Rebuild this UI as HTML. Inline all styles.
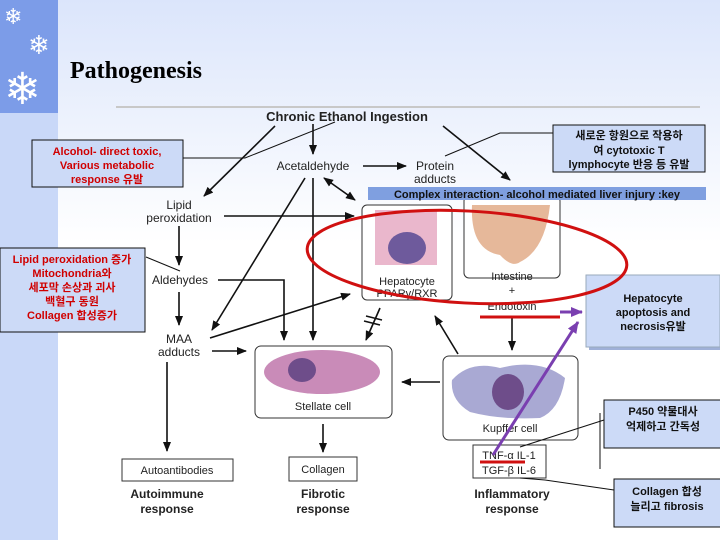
<!DOCTYPE html>
<html><head><meta charset="utf-8"><style>
html,body{margin:0;padding:0;}
body{width:720px;height:540px;overflow:hidden;background:#fff;font-family:"Liberation Sans","Noto Sans CJK KR",sans-serif;}
</style></head><body>
<svg width="720" height="540" xmlns="http://www.w3.org/2000/svg" font-family="Liberation Sans, Noto Sans CJK KR, sans-serif">
<defs>
<linearGradient id="bg" x1="0" y1="0" x2="0" y2="1">
<stop offset="0" stop-color="#dbe5fb"/><stop offset="0.45" stop-color="#ffffff"/><stop offset="1" stop-color="#ffffff"/></linearGradient>
<marker id="a" markerWidth="10" markerHeight="8" refX="9" refY="4" orient="auto" markerUnits="userSpaceOnUse"><path d="M0,0 L10,4 L0,8 z" fill="#111"/></marker>
<marker id="as" markerWidth="10" markerHeight="8" refX="1" refY="4" orient="auto" markerUnits="userSpaceOnUse"><path d="M10,0 L0,4 L10,8 z" fill="#111"/></marker>
<marker id="p" markerWidth="12" markerHeight="10" refX="11" refY="5" orient="auto" markerUnits="userSpaceOnUse"><path d="M0,0 L12,5 L0,10 z" fill="#7a3fb0"/></marker>
</defs>
<rect width="720" height="540" fill="url(#bg)"/>
<rect x="0" y="0" width="58" height="540" fill="#c9d8f8"/>
<rect x="0" y="0" width="58" height="113" fill="#7c9ce8"/>
<g fill="#fff" font-size="22"><text x="4" y="24">❄</text><text x="28" y="54" font-size="26">❄</text><text x="4" y="104" font-size="44">❄</text></g>
<text x="70" y="78" font-family="Liberation Serif, serif" font-weight="bold" font-size="24">Pathogenesis</text>
<line x1="116" y1="107" x2="700" y2="107" stroke="#c8c8c8" stroke-width="2"/>

<g font-size="12" fill="#222" text-anchor="middle">
<text x="347" y="121" font-weight="bold" font-size="13">Chronic Ethanol Ingestion</text>
<text x="313" y="170">Acetaldehyde</text>
<text x="435" y="170">Protein</text><text x="435" y="183">adducts</text>
<text x="179" y="209">Lipid</text><text x="179" y="222">peroxidation</text>
<text x="180" y="284">Aldehydes</text>
<text x="179" y="343">MAA</text><text x="179" y="356">adducts</text>
</g>

<!-- cell boxes -->
<rect x="362" y="205" width="90" height="95" rx="5" fill="#fff" stroke="#333"/>
<rect x="375" y="210" width="62" height="55" fill="#eab7cc"/>
<ellipse cx="407" cy="248" rx="19" ry="16" fill="#6e5a9c"/>
<rect x="464" y="196" width="96" height="82" rx="5" fill="#fff" stroke="#333"/>
<path d="M472,205 Q470,250 500,255 Q512,268 520,262 Q545,250 550,205 z" fill="#e6b89a"/>
<rect x="255" y="346" width="137" height="72" rx="6" fill="#fff" stroke="#333"/>
<ellipse cx="322" cy="372" rx="58" ry="22" fill="#c98bb8"/>
<ellipse cx="302" cy="370" rx="14" ry="12" fill="#6e4d8a"/>
<rect x="443" y="356" width="135" height="84" rx="6" fill="#fff" stroke="#333"/>
<path d="M452,380 Q470,360 500,368 Q540,358 565,378 Q560,410 540,418 Q500,420 470,412 Q450,400 452,380z" fill="#a9a9d3"/>
<ellipse cx="508" cy="392" rx="16" ry="18" fill="#6e4d8a"/>
<rect x="473" y="445" width="73" height="33" fill="#fff" stroke="#333"/>
<rect x="122" y="459" width="111" height="22" fill="#fff" stroke="#333"/>
<rect x="289" y="457" width="68" height="24" fill="#fff" stroke="#333"/>

<g font-size="11" fill="#222" text-anchor="middle">
<text x="407" y="285">Hepatocyte</text><text x="407" y="297">PPARγ/RXR</text>
<text x="512" y="280">Intestine</text>
<text x="512" y="294">+</text><text x="512" y="310">Endotoxin</text>
<text x="323" y="410">Stellate cell</text>
<text x="510" y="432">Kupffer cell</text>
<text x="509" y="459">TNF-α IL-1</text><text x="509" y="474">TGF-β IL-6</text>
<text x="177" y="474">Autoantibodies</text>
<text x="323" y="473">Collagen</text>
<g font-weight="bold" font-size="12"><text x="167" y="498">Autoimmune</text><text x="167" y="513">response</text>
<text x="323" y="498">Fibrotic</text><text x="323" y="513">response</text>
<text x="512" y="498">Inflammatory</text><text x="512" y="513">response</text></g>
</g>

<g stroke="#111" stroke-width="1.6" fill="none" marker-end="url(#a)">
<line x1="313" y1="124" x2="313" y2="154"/>
<line x1="275" y1="126" x2="204" y2="196"/>
<line x1="443" y1="126" x2="510" y2="180"/>
<line x1="363" y1="166" x2="406" y2="166"/>
<line x1="324" y1="178" x2="355" y2="200" marker-start="url(#as)"/>
<line x1="305" y1="178" x2="212" y2="330"/>
<line x1="313" y1="178" x2="313" y2="340"/>
<line x1="224" y1="216" x2="354" y2="216"/>
<line x1="179" y1="226" x2="179" y2="265"/>
<polyline points="218,280 284,280 284,340"/>
<line x1="179" y1="292" x2="179" y2="325"/>
<line x1="210" y1="338" x2="350" y2="294"/>
<line x1="212" y1="351" x2="246" y2="351"/>
<line x1="167" y1="362" x2="167" y2="451"/>
<line x1="380" y1="308" x2="366" y2="340"/>
<line x1="458" y1="354" x2="435" y2="316"/>
<line x1="512" y1="318" x2="512" y2="350"/>
<line x1="440" y1="382" x2="402" y2="382"/>
<line x1="323" y1="424" x2="323" y2="452"/>
</g>
<g stroke="#111" stroke-width="1.5"><line x1="366" y1="316" x2="382" y2="320"/><line x1="364" y1="321" x2="380" y2="325"/></g>

<!-- callouts -->
<g stroke="#111" stroke-width="1" fill="none">
<polyline points="183,158 245,158 335,122"/>
<polyline points="553,133 500,133 445,156"/>
<line x1="146" y1="257" x2="180" y2="271"/>
<line x1="604" y1="420" x2="520" y2="447"/>
<line x1="600" y1="413" x2="600" y2="469"/>
<polyline points="614,490 545,480 520,478"/>
</g>
<g fill="#ccdaf7" stroke="#111">
<rect x="32" y="140" width="151" height="47"/>
<rect x="0" y="248" width="145" height="84"/>
<rect x="553" y="125" width="152" height="47"/>
<rect x="589" y="278" width="134" height="72" fill="#9fb0d8" stroke="none"/>
<rect x="586" y="275" width="134" height="72" stroke="#9ab"/>
<rect x="604" y="400" width="118" height="48"/>
<rect x="614" y="479" width="108" height="48"/>
</g>
<g font-size="11" font-weight="bold" text-anchor="middle">
<g fill="#d00000">
<text x="107" y="155">Alcohol- direct toxic,</text><text x="107" y="169">Various metabolic</text><text x="107" y="183">response 유발</text>
<text x="72" y="263">Lipid peroxidation 증가</text><text x="72" y="277">Mitochondria와</text><text x="72" y="291">세포막 손상과 괴사</text><text x="72" y="305">백혈구 동원</text><text x="72" y="319">Collagen 합성증가</text>
</g>
<g fill="#111">
<text x="629" y="139">새로운 항원으로 작용하</text><text x="629" y="154">여 cytotoxic T</text><text x="629" y="168">lymphocyte 반응 등 유발</text>
<text x="653" y="302">Hepatocyte</text><text x="653" y="316">apoptosis and</text><text x="653" y="330">necrosis유발</text>
<text x="663" y="415">P450 약물대사</text><text x="663" y="430">억제하고 간독성</text>
<text x="667" y="495">Collagen 합성</text><text x="667" y="510">늘리고 fibrosis</text>
</g></g>

<rect x="368" y="187" width="338" height="13" fill="#7f9fe0"/>
<text x="537" y="198" font-size="11" font-weight="bold" text-anchor="middle" fill="#111">Complex interaction- alcohol mediated liver injury :key</text>

<ellipse cx="467" cy="257" rx="160" ry="46" transform="rotate(3 467 257)" fill="none" stroke="#d01010" stroke-width="3"/>
<line x1="480" y1="317" x2="560" y2="317" stroke="#d01010" stroke-width="3"/>
<line x1="480" y1="462" x2="525" y2="462" stroke="#d01010" stroke-width="3"/>
<g stroke="#7a3fb0" stroke-width="3" marker-end="url(#p)">
<line x1="560" y1="312" x2="582" y2="312"/>
<line x1="493" y1="455" x2="578" y2="322"/>
</g>
</svg>
</body></html>
